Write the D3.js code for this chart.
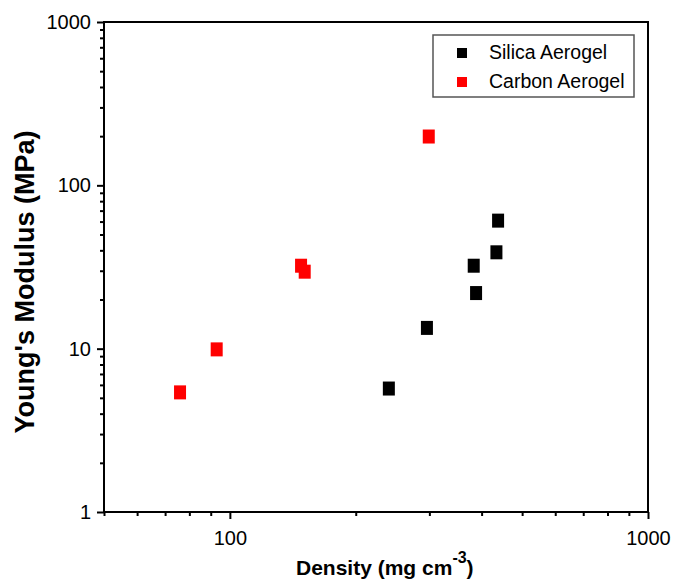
<!DOCTYPE html>
<html>
<head>
<meta charset="utf-8">
<script src="https://cdn.jsdelivr.net/npm/d3@7"></script>
<style>
  body { margin: 0; background: #fff; }
  svg text { font-family: "Liberation Sans", Arial, sans-serif; fill: #000; }
</style>
</head>
<body>
<script>
// data
const silicaDensity = [240, 296, 383, 388, 434, 438];
const silicaModulus = [5.7, 13.4, 32.2, 21.9, 38.9, 60.8];
const carbonDensity = [76, 93, 148, 151, 299];
const carbonModulus = [5.4, 9.9, 32.2, 29.6, 199];

const seriesNames = ["Silica Aerogel", "Carbon Aerogel"];
const seriesColors = ["#000000", "#ff0000"];

const xMajor = [100, 1000];
const xMinor = [50, 60, 70, 80, 90, 200, 300, 400, 500, 600, 700, 800, 900];
const yMajor = [1, 10, 100, 1000];
const yMinor = [2, 3, 4, 5, 6, 7, 8, 9, 20, 30, 40, 50, 60, 70, 80, 90, 200, 300, 400, 500, 600, 700, 800, 900];

const margin = { top: 22, right: 25, bottom: 70, left: 104 };
const width = 673 - margin.left - margin.right;
const height = 582 - margin.top - margin.bottom;

const x = d3.scaleLog().domain([50, 1000]).range([0, width]);
const y = d3.scaleLog().domain([1, 1000]).range([height, 0]);

const svg = d3
  .select("body")
  .append("svg")
  .attr("width", 673)
  .attr("height", 582);

const g = svg.append("g").attr("transform", `translate(${margin.left},${margin.top})`);

// minor ticks first, then major ticks with labels
g.append("g")
  .attr("class", "x-minor")
  .attr("transform", `translate(0,${height})`)
  .call(d3.axisBottom(x).tickValues(xMinor).tickSize(4).tickFormat(""));

g.append("g")
  .attr("class", "x-major")
  .attr("transform", `translate(0,${height})`)
  .call(d3.axisBottom(x).tickValues(xMajor).tickSize(7).tickPadding(12).tickFormat(d3.format("d")));

g.append("g")
  .attr("class", "y-minor")
  .call(d3.axisLeft(y).tickValues(yMinor).tickSize(4).tickFormat(""));

g.append("g")
  .attr("class", "y-major")
  .call(d3.axisLeft(y).tickValues(yMajor).tickSize(7).tickPadding(6).tickFormat(d3.format("d")));

g.selectAll(".domain").remove();
g.selectAll(".tick line").attr("stroke", "#000").attr("stroke-width", 2);
g.selectAll(".tick text").style("font-size", "20px").attr("fill", "#000");

// plot frame
g.append("rect")
  .attr("width", width)
  .attr("height", height)
  .attr("fill", "none")
  .attr("stroke", "#000")
  .attr("stroke-width", 2);

// points
const sets = [
  { dens: silicaDensity, mod: silicaModulus, color: seriesColors[0] },
  { dens: carbonDensity, mod: carbonModulus, color: seriesColors[1] },
];

sets.forEach((s) => {
  g.append("g")
    .selectAll("rect")
    .data(s.dens.map((d, i) => [d, s.mod[i]]))
    .enter()
    .append("rect")
    .attr("x", (d) => x(d[0]) - 6)
    .attr("y", (d) => y(d[1]) - 7)
    .attr("width", 12)
    .attr("height", 14)
    .attr("fill", s.color);
});

// legend
const legend = svg.append("g").attr("transform", "translate(433,35)");
legend.append("rect")
  .attr("width", 201)
  .attr("height", 62)
  .attr("fill", "#fff")
  .attr("stroke", "#555")
  .attr("stroke-width", 1.5);

seriesNames.forEach((name, i) => {
  legend.append("rect")
    .attr("x", 24)
    .attr("y", 13 + i * 29)
    .attr("width", 10)
    .attr("height", 10)
    .attr("fill", seriesColors[i]);
  legend.append("text")
    .attr("x", 56)
    .attr("y", 24 + i * 29)
    .style("font-size", "19.5px")
    .text(name);
});

// axis titles
const xt = svg.append("text")
  .attr("x", 296)
  .attr("y", 575)
  .style("font-size", "21px")
  .style("font-weight", "bold");
xt.append("tspan").text("Density (mg cm");
xt.append("tspan").attr("dy", -12).style("font-size", "16px").text("-3");
xt.append("tspan").attr("dy", 12).text(")");

svg.append("text")
  .attr("transform", "translate(34,282) rotate(-90)")
  .attr("text-anchor", "middle")
  .style("font-size", "27px")
  .style("font-weight", "bold")
  .text("Young's Modulus (MPa)");
</script>
</body>
</html>
